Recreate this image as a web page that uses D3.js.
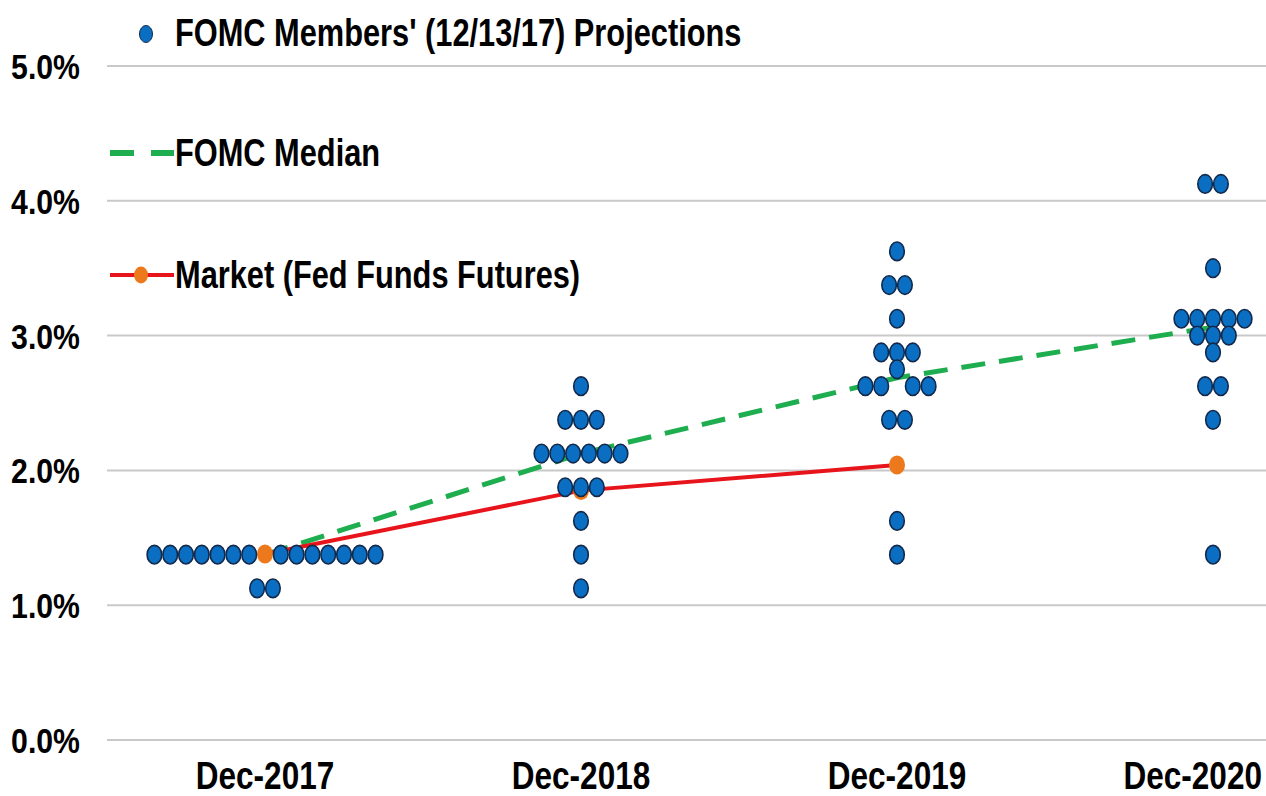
<!DOCTYPE html>
<html lang="en">
<head>
    <meta charset="UTF-8">
    <title>FOMC dot plot vs market</title>
    <script src="https://cdn.jsdelivr.net/npm/d3@7"></script>
    <style>
        body { margin: 0; background: #fff; }
        text {
            font-family: 'Liberation Sans', Arial, sans-serif;
            font-weight: bold;
            fill: #000;
        }
    </style>
</head>
<body>
<script>
    // data
    const categories = ["Dec-2017", "Dec-2018", "Dec-2019", "Dec-2020"];

    const proj2017 = [1.375, 1.375, 1.375, 1.375, 1.375, 1.375, 1.375,
                      1.375, 1.375, 1.375, 1.375, 1.375, 1.375, 1.375,
                      1.125, 1.125];
    const proj2018 = [2.625, 2.375, 2.375, 2.375,
                      2.125, 2.125, 2.125, 2.125, 2.125, 2.125,
                      1.875, 1.875, 1.875, 1.625, 1.375, 1.125];
    const proj2019 = [3.625, 3.375, 3.375, 3.125, 2.875, 2.875, 2.875, 2.75,
                      2.625, 2.625, 2.625, 2.625, 2.375, 2.375, 1.625, 1.375];
    const proj2020 = [4.125, 4.125, 3.5, 3.125, 3.125, 3.125, 3.125, 3.125,
                      3.0, 3.0, 3.0, 2.875, 2.625, 2.625, 2.375, 1.375];

    const medianValues = [1.375, 2.125, 2.6875, 3.0625];
    const marketValues = [1.38, 1.85, 2.04];   // no quote for Dec-2020

    const yTicks = [0, 1, 2, 3, 4, 5];

    const legendLabels = ["FOMC Members' (12/13/17) Projections", "FOMC Median", "Market (Fed Funds Futures)"];

    // rows drawn with an empty middle slot, as in the original
    const openCentre = new Set(["Dec-2017|1.375", "Dec-2019|2.625"]);

    const W = 1266, H = 796;
    const blue = "#0a6fc2", navy = "#13294b", orange = "#ec7a1c", red = "#e8141b", green = "#1fae4f";
    const dotStep = 15.8;

    const svg = d3.select("body").append("svg").attr("width", W).attr("height", H);

    const x = d3.scaleBand().domain(categories).range([107, 1371]);
    const y = d3.scaleLinear().domain([0, 5]).range([740, 66]);
    const cx = c => x(c) + x.bandwidth() / 2;

    // the original uses a narrow face; squeeze the text horizontally
    const squeeze = (px, py, sx) => `translate(${px},${py}) scale(${sx},1)`;

    // grid lines + y labels
    svg.append("g").selectAll("line").data(yTicks).join("line")
        .attr("x1", x.range()[0]).attr("x2", x.range()[1])
        .attr("y1", d => y(d)).attr("y2", d => y(d))
        .attr("stroke", "#c9c9c9").attr("stroke-width", 2);

    svg.append("g").selectAll("text").data(yTicks).join("text")
        .attr("transform", d => squeeze(80, y(d), 0.84))
        .attr("dy", "0.36em")
        .attr("text-anchor", "end")
        .style("font-size", "36px")
        .text(d => d3.format(".1f")(d) + "%");

    // x labels (the last one is pulled in so it stays inside the frame)
    const xsq = 0.83;
    svg.append("g").selectAll("text").data(categories).join("text")
        .attr("text-anchor", "middle")
        .style("font-size", "38px")
        .text(d => d)
        .each(function(d) {
            const half = this.getComputedTextLength() * xsq / 2;
            const px = Math.min(cx(d), W - 4 - half);
            d3.select(this).attr("transform", squeeze(px, 789, xsq));
        });

    // lines
    const line = d3.line().x(d => cx(d.cat)).y(d => y(d.v));

    svg.append("path")
        .datum(categories.map((c, i) => ({cat: c, v: medianValues[i]})))
        .attr("d", line).attr("fill", "none")
        .attr("stroke", green).attr("stroke-width", 5)
        .attr("stroke-dasharray", "24,14");

    const market = marketValues.map((v, i) => ({cat: categories[i], v: v}));
    svg.append("path")
        .datum(market)
        .attr("d", line).attr("fill", "none")
        .attr("stroke", red).attr("stroke-width", 4);

    svg.append("g").selectAll("ellipse").data(market).join("ellipse")
        .attr("cx", d => cx(d.cat)).attr("cy", d => y(d.v))
        .attr("rx", 8).attr("ry", 9.5)
        .attr("fill", orange);

    // dots, laid out in rows per rate
    const projections = [proj2017, proj2018, proj2019, proj2020];
    const dots = [];
    projections.forEach((vals, i) => {
        const cat = categories[i];
        d3.groups(vals, v => v).forEach(([rate, arr]) => {
            const n = arr.length;
            const gap = openCentre.has(cat + "|" + rate);
            arr.forEach((v, j) => {
                let off;
                if (gap) off = j < n / 2 ? j - n / 2 : j - n / 2 + 1;
                else off = j - (n - 1) / 2;
                dots.push({cat: cat, v: v, off: off});
            });
        });
    });

    svg.append("g").selectAll("ellipse").data(dots).join("ellipse")
        .attr("cx", d => cx(d.cat) + d.off * dotStep)
        .attr("cy", d => y(d.v))
        .attr("rx", 7.3).attr("ry", 9.3)
        .attr("fill", blue).attr("stroke", navy).attr("stroke-width", 1.6);

    // legend
    const lg = svg.append("g");
    lg.append("ellipse").attr("cx", 146).attr("cy", 34).attr("rx", 6.5).attr("ry", 8.5)
        .attr("fill", blue).attr("stroke", navy).attr("stroke-width", 1);
    lg.append("line").attr("x1", 110).attr("x2", 174).attr("y1", 153).attr("y2", 153)
        .attr("stroke", green).attr("stroke-width", 6).attr("stroke-dasharray", "24,17");
    lg.append("line").attr("x1", 110).attr("x2", 174).attr("y1", 275).attr("y2", 275)
        .attr("stroke", red).attr("stroke-width", 4);
    lg.append("ellipse").attr("cx", 141).attr("cy", 275).attr("rx", 7).attr("ry", 8.5)
        .attr("fill", orange);

    lg.selectAll("text").data(legendLabels).join("text")
        .attr("transform", (d, i) => squeeze(175, [46, 166, 288][i], 0.81))
        .style("font-size", "38px")
        .text(d => d);
</script>
</body>
</html>
